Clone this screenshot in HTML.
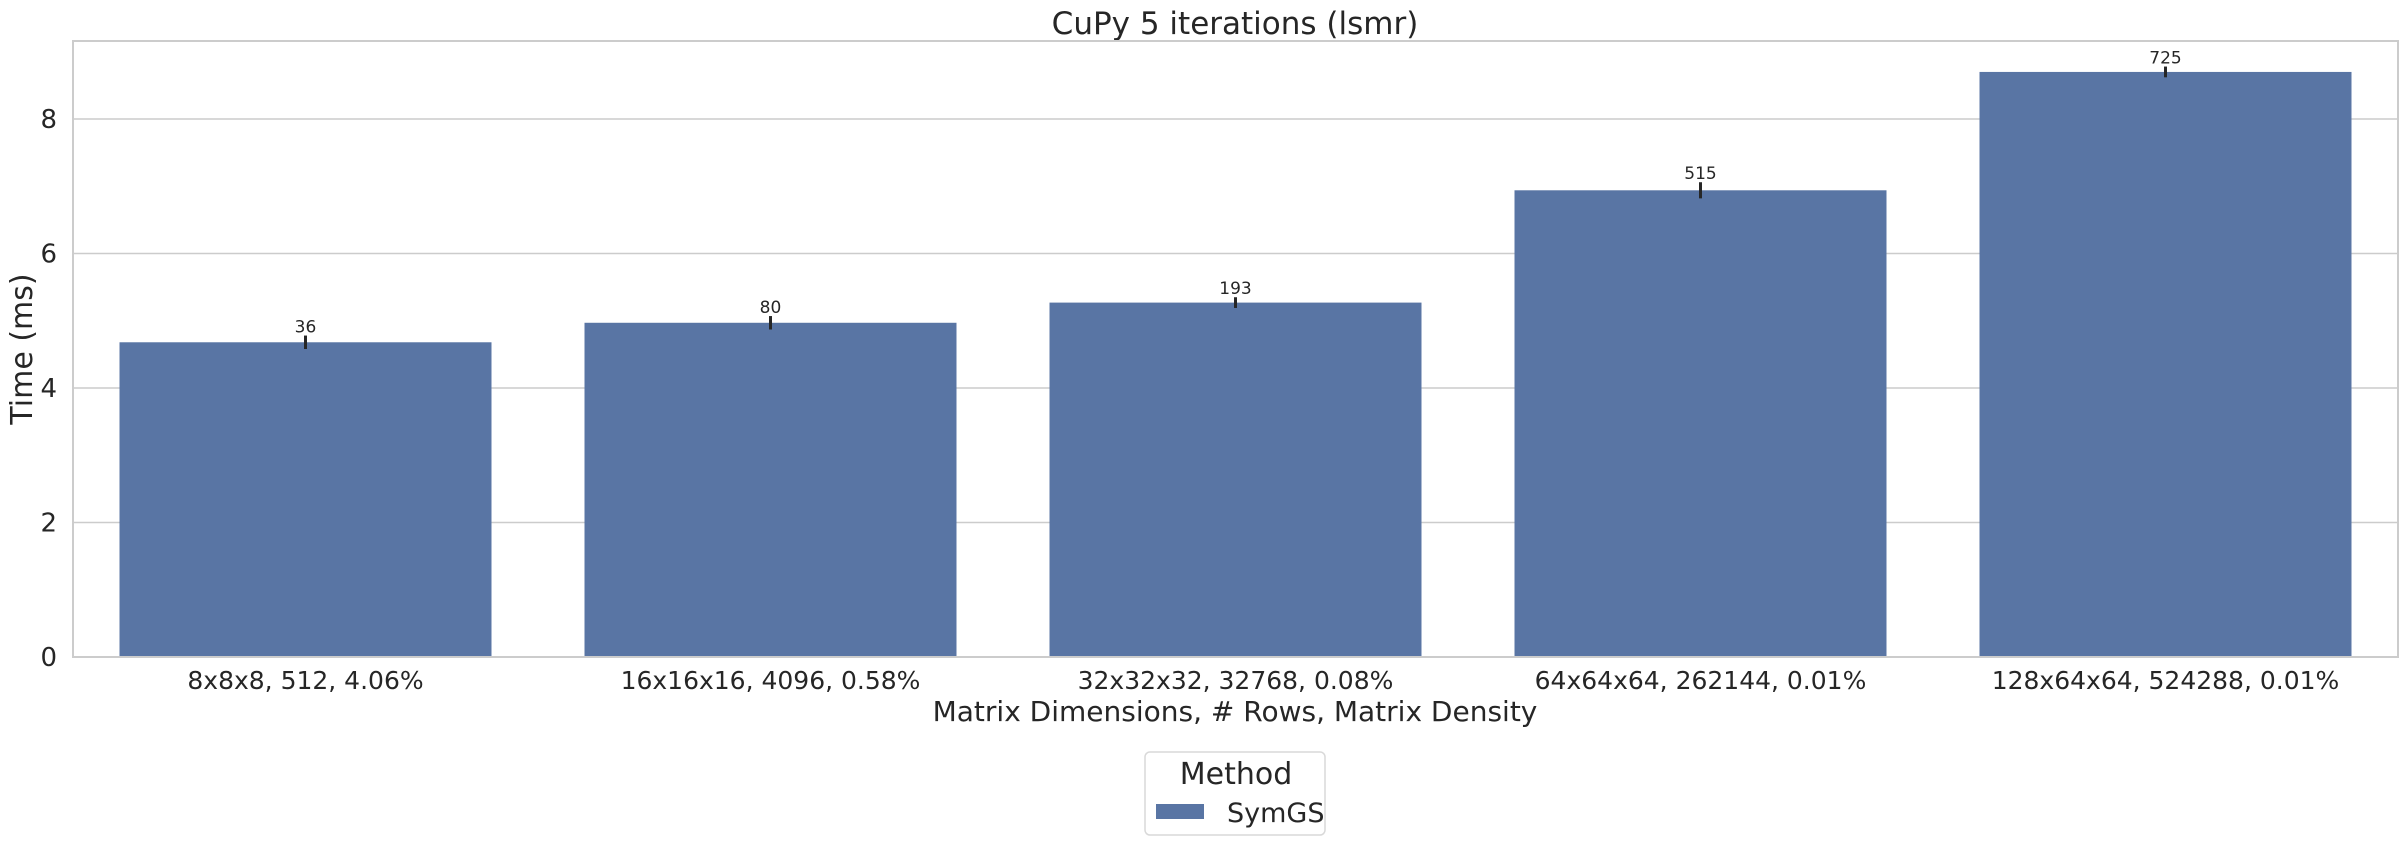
<!DOCTYPE html>
<html><head><meta charset="utf-8"><style>
html,body{margin:0;padding:0;background:#fff;}
svg{display:block;font-family:"DejaVu Sans","Liberation Sans",sans-serif;}
</style></head><body>
<svg id="chart" width="2407" height="845" viewBox="0 0 2407 845" xmlns="http://www.w3.org/2000/svg">
<text x="1235" y="34" text-anchor="middle" font-size="31" fill="#262626">CuPy 5 iterations (lsmr)</text>
<g id="grid"></g>
<g id="bars"></g>
<g id="axes"></g>
<text transform="translate(32,349) rotate(-90)" text-anchor="middle" font-size="30" fill="#262626">Time (ms)</text>
<text x="1235" y="721" text-anchor="middle" font-size="28" fill="#262626">Matrix Dimensions, # Rows, Matrix Density</text>
<g>
<rect x="1145" y="752" width="180" height="83" rx="5" fill="#fff" stroke="#d9d9d9" stroke-width="1.5"/>
<text x="1236" y="784" text-anchor="middle" font-size="30" fill="#262626">Method</text>
<rect x="1156" y="804" width="48" height="15" fill="#5975a4"/>
<text x="1227" y="822" font-size="27" fill="#262626">SymGS</text>
</g>
</svg>
<script>
const categories=["8x8x8, 512, 4.06%","16x16x16, 4096, 0.58%","32x32x32, 32768, 0.08%","64x64x64, 262144, 0.01%","128x64x64, 524288, 0.01%"];
const values=[4.68,4.97,5.27,6.94,8.70];
const errors=[0.1,0.1,0.08,0.12,0.08];
const barLabels=["36","80","193","515","725"];
const yTicks=[0,2,4,6,8];
const NS="http://www.w3.org/2000/svg";
const L=73,R=2398,T=41,B=657;
const yMax=9.16;
const ys=v=>B-(v/yMax)*(B-T);
const cw=(R-L)/categories.length;
const xc=i=>L+cw*(i+0.5);
function mk(tag,attrs,parent,text){const e=document.createElementNS(NS,tag);for(const k in attrs)e.setAttribute(k,attrs[k]);if(text!==undefined)e.textContent=text;parent.appendChild(e);return e;}
const grid=document.getElementById('grid'),bars=document.getElementById('bars'),axes=document.getElementById('axes');
yTicks.forEach(t=>{
  const y=ys(t);
  if(t>0){const g=mk('line',{x1:L,x2:R,y1:y,y2:y,stroke:'#cccccc','stroke-width':1.5},grid);
  
  }
  const tx=mk('text',{x:L-16,y:y+9,'text-anchor':'end','font-size':26,fill:'#262626'},axes,String(t));
  
  
});
values.forEach((v,i)=>{
  const bw=cw*0.8,x=xc(i)-bw/2,y=ys(v);
  const r=mk('rect',{x:x,y:y,width:bw,height:B-y,fill:'#5975a4'},bars);
  
  
  const e=mk('line',{x1:xc(i),x2:xc(i),y1:ys(v+errors[i]),y2:ys(v-errors[i]),stroke:'#262626','stroke-width':3},bars);
  
  
  const lb=mk('text',{x:xc(i),y:ys(v+errors[i])-3,'text-anchor':'middle','font-size':17,fill:'#262626'},bars,barLabels[i]);
  
  
  const xl=mk('text',{x:xc(i),y:689,'text-anchor':'middle','font-size':25,fill:'#262626'},axes,categories[i]);
  
  
});
const fr=mk('rect',{x:L,y:T,width:R-L,height:B-T,fill:'none',stroke:'#cccccc','stroke-width':2},axes);


</script>
</body></html>
